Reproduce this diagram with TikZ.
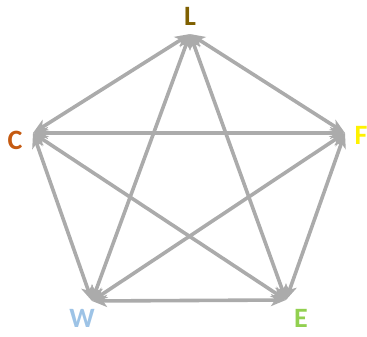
\documentclass[tikz,border=0pt]{standalone}
\usepackage{fontspec}
\setmainfont{Carlito}
\usetikzlibrary{arrows.meta}
\definecolor{cL}{HTML}{7F6000}
\definecolor{cC}{HTML}{C55A11}
\definecolor{cF}{HTML}{FFF200}
\definecolor{cW}{HTML}{9DC3E6}
\definecolor{cE}{HTML}{92D050}
\definecolor{arr}{HTML}{ABABAB}
\tikzset{
  link/.style={draw=arr, line width=3.6pt, {Stealth[length=15pt,width=12pt,inset=4pt]}-{Stealth[length=15pt,width=12pt,inset=4pt]}},
  lab/.style={font=\bfseries\fontsize{28}{28}\selectfont, inner sep=0pt}
}
\begin{document}
\begin{tikzpicture}[x=1pt,y=-1pt]
\useasboundingbox (0,0) rectangle (367,337);
\coordinate (L) at (190,34);
\coordinate (C) at (33,133);
\coordinate (F) at (345,133);
\coordinate (W) at (92,301);
\coordinate (E) at (286,300);
\draw[link] (L) -- (C);
\draw[link] (L) -- (F);
\draw[link] (L) -- (W);
\draw[link] (L) -- (E);
\draw[link] (C) -- (F);
\draw[link] (C) -- (W);
\draw[link] (C) -- (E);
\draw[link] (F) -- (W);
\draw[link] (F) -- (E);
\draw[link] (W) -- (E);
\node[lab, text=cL] (tL) at (190,16) {L};
\node[lab, text=cC] (tC) at (15,140) {C};
\node[lab, text=cF] (tF) at (361,135) {F};
\node[lab, text=cW] (tW) at (82,318) {W};
\node[lab, text=cE] (tE) at (301,318) {E};
\end{tikzpicture}
\end{document}
